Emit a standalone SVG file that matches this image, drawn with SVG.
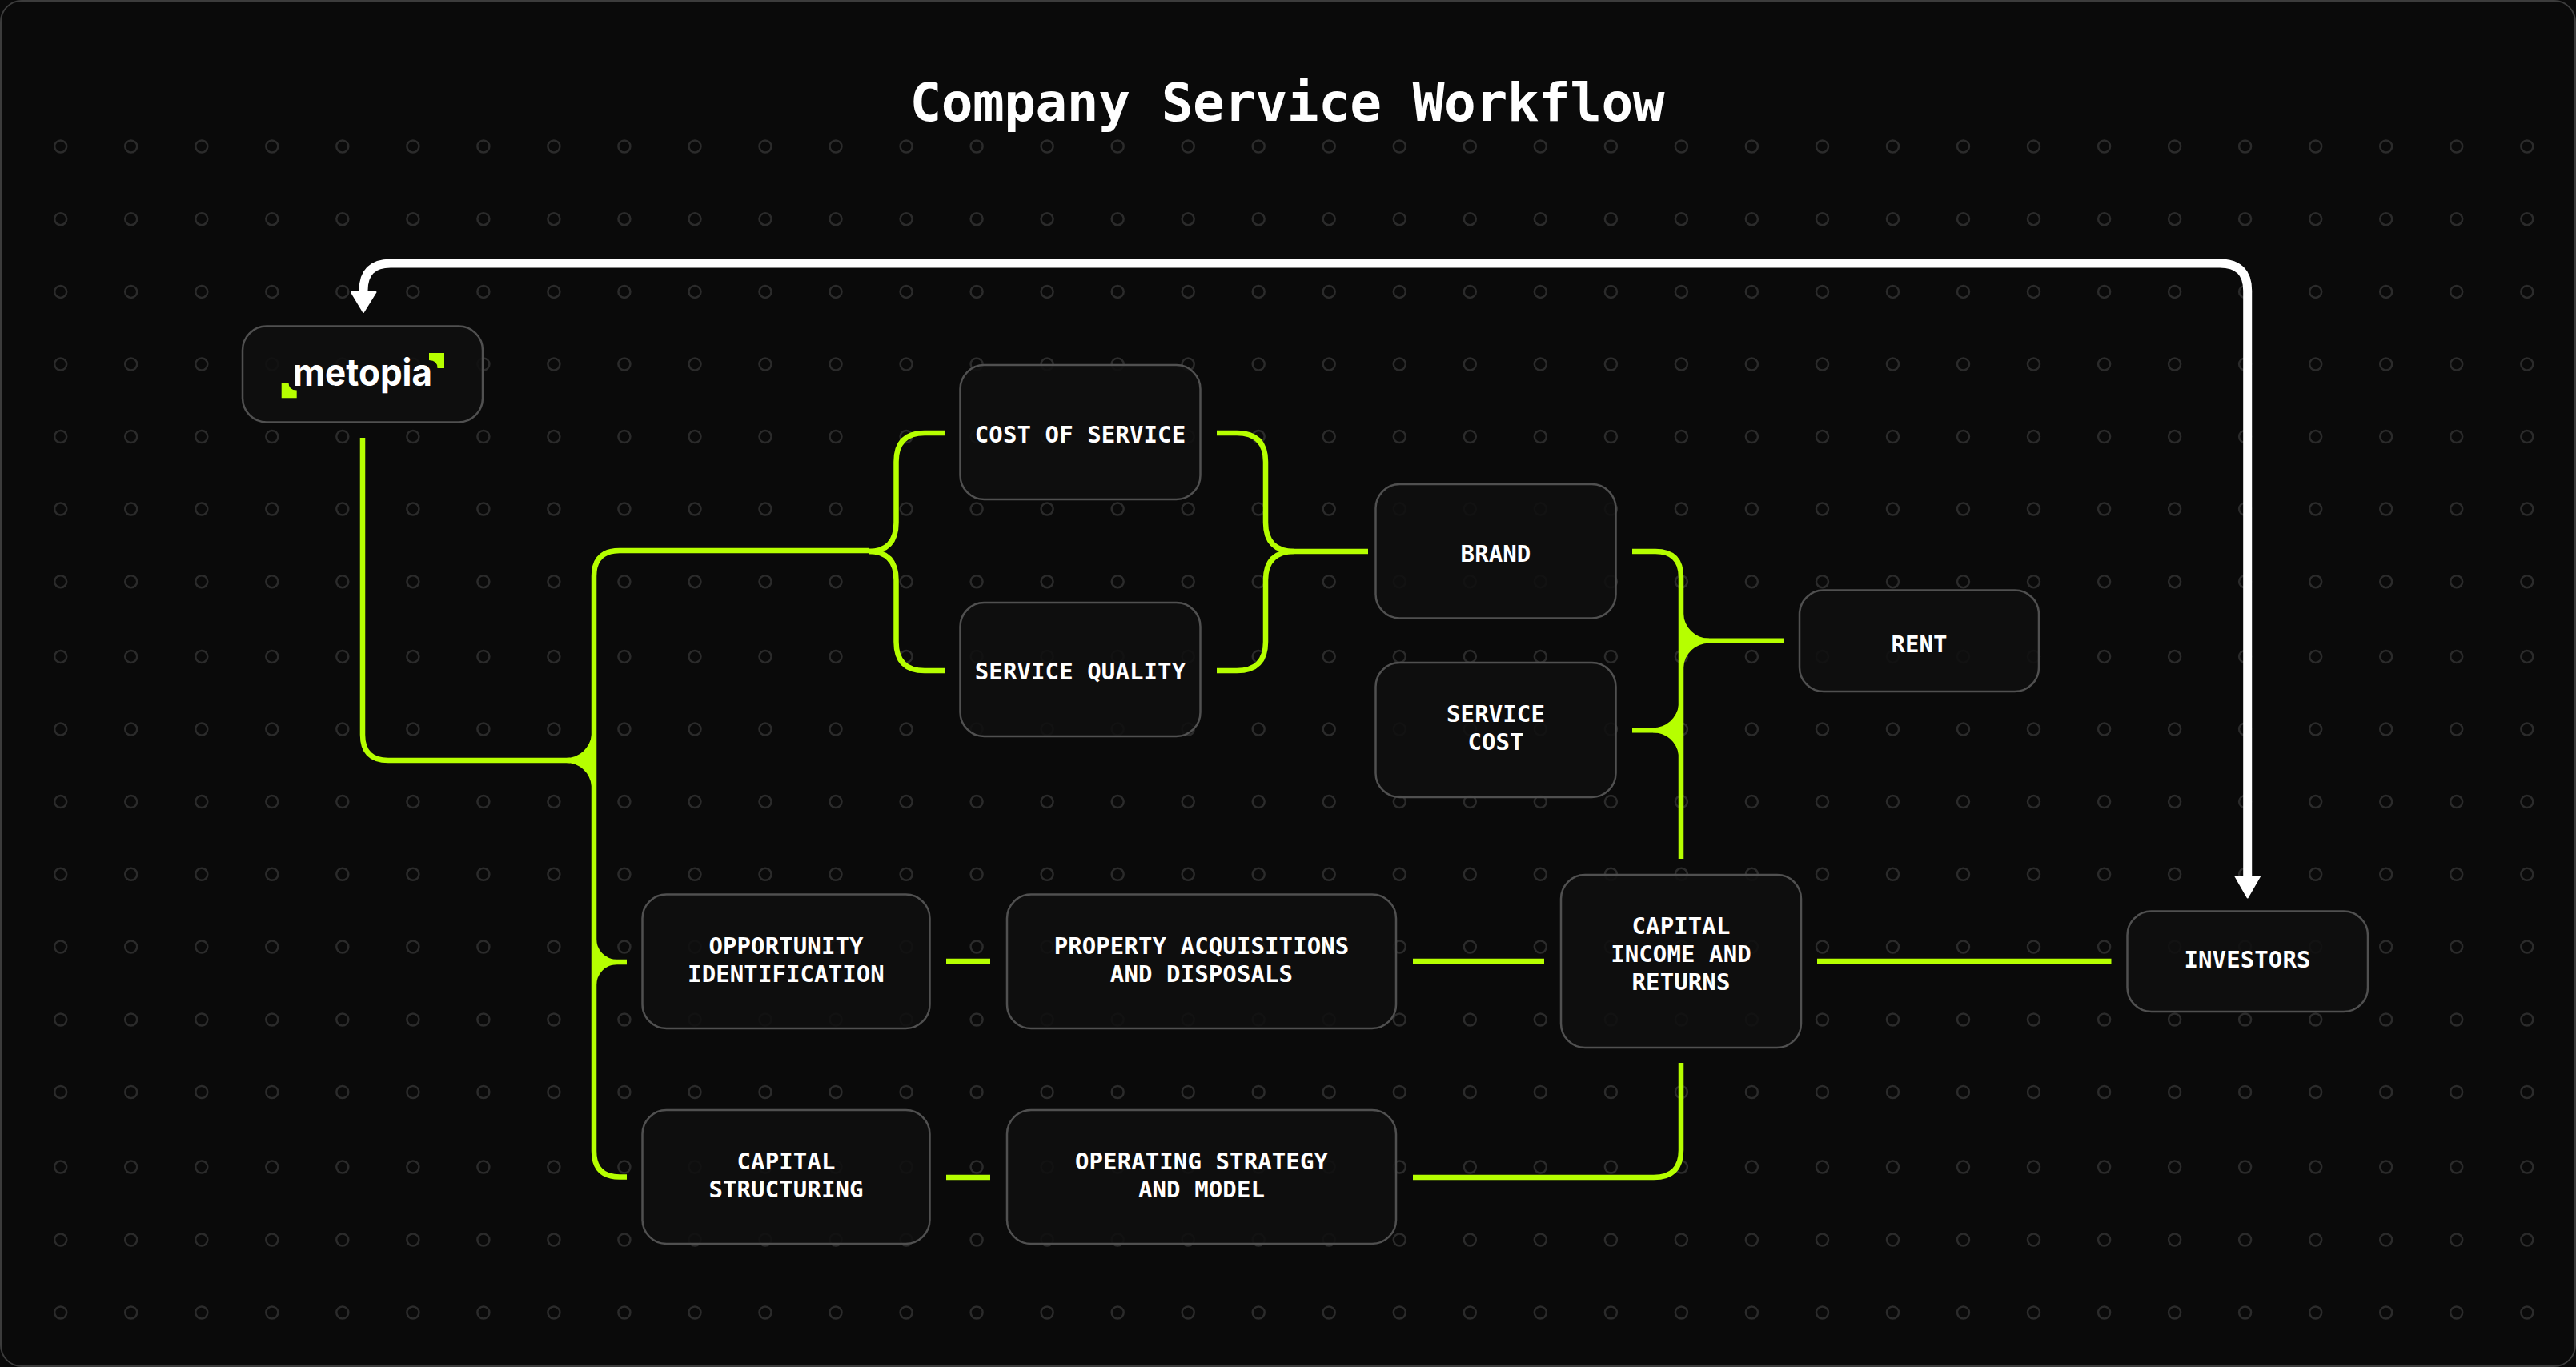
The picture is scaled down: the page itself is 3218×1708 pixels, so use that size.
<svg xmlns="http://www.w3.org/2000/svg" width="3218" height="1708" viewBox="0 0 3218 1708">
<style>
.node{fill:#0f0f0f;fill-opacity:.88;stroke:#505050;stroke-width:2.5}
.t{font-family:"DejaVu Sans Mono","Liberation Mono",monospace;font-size:29px;font-weight:700;fill:#fff;text-anchor:middle;letter-spacing:.1px}
.g{fill:none;stroke:#b6ff00;stroke-width:6.500}
.f{fill:#b6ff00;stroke:none}
.w{fill:none;stroke:#fff;stroke-width:11}
.dot{fill:none;stroke:#2b2b2b;stroke-width:2.5}
.head{fill:#fff;stroke:#fff;stroke-width:2;stroke-linejoin:round}
</style>
<defs>
<g id="row"><circle cx="75.7" r="7.5" class="dot"/><circle cx="163.7" r="7.5" class="dot"/><circle cx="251.8" r="7.5" class="dot"/><circle cx="339.8" r="7.5" class="dot"/><circle cx="427.8" r="7.5" class="dot"/><circle cx="515.9" r="7.5" class="dot"/><circle cx="603.9" r="7.5" class="dot"/><circle cx="691.9" r="7.5" class="dot"/><circle cx="779.9" r="7.5" class="dot"/><circle cx="868" r="7.5" class="dot"/><circle cx="956" r="7.5" class="dot"/><circle cx="1044" r="7.5" class="dot"/><circle cx="1132.1" r="7.5" class="dot"/><circle cx="1220.1" r="7.5" class="dot"/><circle cx="1308.1" r="7.5" class="dot"/><circle cx="1396.2" r="7.5" class="dot"/><circle cx="1484.2" r="7.5" class="dot"/><circle cx="1572.2" r="7.5" class="dot"/><circle cx="1660.2" r="7.5" class="dot"/><circle cx="1748.3" r="7.5" class="dot"/><circle cx="1836.3" r="7.5" class="dot"/><circle cx="1924.3" r="7.5" class="dot"/><circle cx="2012.4" r="7.5" class="dot"/><circle cx="2100.4" r="7.5" class="dot"/><circle cx="2188.4" r="7.5" class="dot"/><circle cx="2276.5" r="7.5" class="dot"/><circle cx="2364.5" r="7.5" class="dot"/><circle cx="2452.5" r="7.5" class="dot"/><circle cx="2540.5" r="7.5" class="dot"/><circle cx="2628.6" r="7.5" class="dot"/><circle cx="2716.6" r="7.5" class="dot"/><circle cx="2804.6" r="7.5" class="dot"/><circle cx="2892.7" r="7.5" class="dot"/><circle cx="2980.7" r="7.5" class="dot"/><circle cx="3068.7" r="7.5" class="dot"/><circle cx="3156.8" r="7.5" class="dot"/></g>
</defs>
<rect width="3218" height="1708" fill="#0a0a0a"/>
<rect x="1" y="1" width="3216" height="1706" rx="26" fill="#0a0a0a" stroke="#3c3c3c" stroke-width="2"/>
<g id="dots">
<use href="#row" y="183"/><use href="#row" y="273.7"/><use href="#row" y="364.4"/><use href="#row" y="455"/><use href="#row" y="545.5"/><use href="#row" y="636"/><use href="#row" y="726.7"/><use href="#row" y="820.4"/><use href="#row" y="911"/><use href="#row" y="1001.6"/><use href="#row" y="1092.3"/><use href="#row" y="1183"/><use href="#row" y="1274"/><use href="#row" y="1364.5"/><use href="#row" y="1458"/><use href="#row" y="1549"/><use href="#row" y="1640"/>
</g>
<text id="title" x="1608" y="151" font-family="'DejaVu Sans Mono','Liberation Mono',monospace" font-size="66" font-weight="700" fill="#fff" text-anchor="middle" textLength="943" lengthAdjust="spacing">Company Service Workflow</text>
<g id="connectors">
<path class="g" d="M453 547V918Q453 950 485 950H712"/>
<path class="f" d="M739 918A32 32 0 0 1 707 947V953A32 32 0 0 1 739 982H745V918Z"/>
<path class="g" d="M742 950V720Q742 688 774 688H1085"/>
<path class="g" d="M742 950V1438Q742 1470.5 774 1470.5H783"/>
<path class="f" d="M745 1172A26 26 0 0 0 771 1199V1205A26 26 0 0 0 745 1232H739V1172Z"/>
<path class="g" d="M742 1202H783"/>
<path class="g" d="M1085 689Q1119.5 689 1119.5 653V577Q1119.5 541 1155 541H1180.5"/>
<path class="g" d="M1085 689Q1119.5 689 1119.5 725V802Q1119.5 838 1155 838H1180.5"/>
<path class="g" d="M1520 541H1545Q1581 541 1581 577V653Q1581 689 1617 689H1709"/>
<path class="g" d="M1520 838H1545Q1581 838 1581 802V725Q1581 689 1617 689"/>
<path class="g" d="M2039 689H2068Q2100 689 2100 721V1073"/>
<path class="f" d="M2103 767A32 32 0 0 0 2135 797.700V803.700A32 32 0 0 0 2103 834H2097V767Z"/>
<path class="g" d="M2100 800.700H2228"/>
<path class="f" d="M2097 881A32 32 0 0 1 2065 909.300V915.300A32 32 0 0 1 2097 943H2103V881Z"/>
<path class="g" d="M2039 912.300H2100"/>
<path class="g" d="M1182 1201H1237M1765 1201H1929M2270 1201H2637.500M1182 1471H1237"/>
<path class="g" d="M1765 1471H2066Q2100 1471 2100 1437V1328"/>
<path class="w" d="M2807.700 1096V363Q2807.700 329 2773 329H488Q454 329 454 363V366"/>
<path class="head" d="M2792.500 1095H2823L2807.700 1121.500Z"/>
<path class="head" d="M439 365H469.500L454 390Z"/>
</g>
<g id="metopia"><rect class="node" x="303" y="407.500" width="300" height="120" rx="30"/>
<text x="366" y="482" font-family="Inter,'Noto Sans',sans-serif" font-size="47" font-weight="700" fill="#fff" textLength="174" lengthAdjust="spacingAndGlyphs">metopia</text>
<path class="f" d="M351.700 478.300H360.500Q360.500 487.500 370.700 487.500V497.300H351.700Z"/>
<path class="f" d="M536 441H555V460H546.500Q546.500 450 536 450Z"/></g>
<g id="cost-of-service"><rect class="node" x="1199.500" y="456" width="300" height="168" rx="30"/><text class="t" x="1349.500" y="553">COST OF SERVICE</text></g>
<g id="service-quality"><rect class="node" x="1199.500" y="753" width="300" height="167" rx="30"/><text class="t" x="1349.500" y="849">SERVICE QUALITY</text></g>
<g id="brand"><rect class="node" x="1718.500" y="605" width="300" height="167.500" rx="30"/><text class="t" x="1868.500" y="702">BRAND</text></g>
<g id="service-cost"><rect class="node" x="1718.500" y="828" width="300" height="168" rx="30"/><text class="t" x="1868.500" y="902">SERVICE</text><text class="t" x="1868.500" y="937">COST</text></g>
<g id="rent"><rect class="node" x="2248" y="737.500" width="299" height="126.500" rx="30"/><text class="t" x="2397.500" y="815">RENT</text></g>
<g id="opportunity-identification"><rect class="node" x="802.500" y="1117.500" width="359" height="167.500" rx="30"/><text class="t" x="982" y="1192">OPPORTUNITY</text><text class="t" x="982" y="1227">IDENTIFICATION</text></g>
<g id="property-acquisitions"><rect class="node" x="1258" y="1117.500" width="486" height="167.500" rx="30"/><text class="t" x="1501" y="1192">PROPERTY ACQUISITIONS</text><text class="t" x="1501" y="1227">AND DISPOSALS</text></g>
<g id="capital-income"><rect class="node" x="1950" y="1093" width="300" height="216" rx="30"/><text class="t" x="2100" y="1167">CAPITAL</text><text class="t" x="2100" y="1202">INCOME AND</text><text class="t" x="2100" y="1237">RETURNS</text></g>
<g id="investors"><rect class="node" x="2657.500" y="1138.500" width="300.500" height="125.500" rx="30"/><text class="t" x="2807.500" y="1209">INVESTORS</text></g>
<g id="capital-structuring"><rect class="node" x="802.500" y="1387" width="359" height="167" rx="30"/><text class="t" x="982" y="1461">CAPITAL</text><text class="t" x="982" y="1496">STRUCTURING</text></g>
<g id="operating-strategy"><rect class="node" x="1258" y="1387" width="486" height="167" rx="30"/><text class="t" x="1501" y="1461">OPERATING STRATEGY</text><text class="t" x="1501" y="1496">AND MODEL</text></g>
</svg>
